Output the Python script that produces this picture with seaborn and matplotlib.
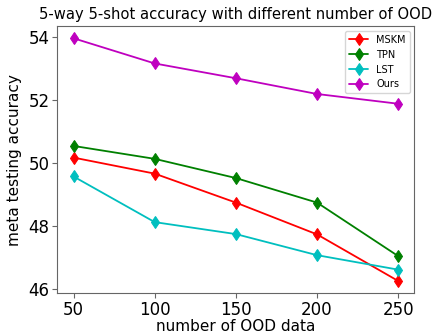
import numpy as np
import pandas as pd
import matplotlib
matplotlib.use("Agg")
import matplotlib.pyplot as plt
import seaborn as sns

# data
ood_num = [50, 100, 150, 200, 250]
methods = ["MSKM", "TPN", "LST", "Ours"]
mskm = [50.18, 49.67, 48.75, 47.74, 46.26]
tpn = [50.55, 50.14, 49.53, 48.75, 47.05]
lst = [49.58, 48.13, 47.75, 47.08, 46.62]
ours = [53.97, 53.17, 52.70, 52.20, 51.89]
colors = ["r", "g", "c", "m"]

rows = []
for name, vals in zip(methods, [mskm, tpn, lst, ours]):
    for x, v in zip(ood_num, vals):
        rows.append({"n": x, "acc": v, "method": name})
df = pd.DataFrame(rows)

sns.set_style("ticks")
plt.rcParams["font.family"] = ["DejaVu Sans"]
plt.rcParams["text.color"] = "black"
plt.rcParams["axes.labelcolor"] = "black"
plt.rcParams["xtick.color"] = "black"
plt.rcParams["ytick.color"] = "black"

fig, ax = plt.subplots(figsize=(4.34, 3.35), dpi=100)
sns.lineplot(data=df, x="n", y="acc", hue="method", palette=colors,
             marker="d", markersize=6, markeredgecolor=None, linewidth=1.3,
             ax=ax)

for s in ax.spines.values():
    s.set_color("#666666")
ax.set_xticks(ood_num)
ax.set_yticks([46, 48, 50, 52, 54])
ax.tick_params(labelsize=12, pad=2, length=3.5, color="#666666")
ax.set_xlabel("number of OOD data", fontsize=11, labelpad=0)
ax.set_ylabel("meta testing accuracy", fontsize=11, labelpad=5)
ax.set_title("5-way 5-shot accuracy with different number of OOD", fontsize=10.6, pad=5)
ax.legend(loc="upper right", fontsize=7)

fig.subplots_adjust(left=0.132, right=0.955, top=0.922, bottom=0.125)
fig.savefig("out.png", dpi=100)
